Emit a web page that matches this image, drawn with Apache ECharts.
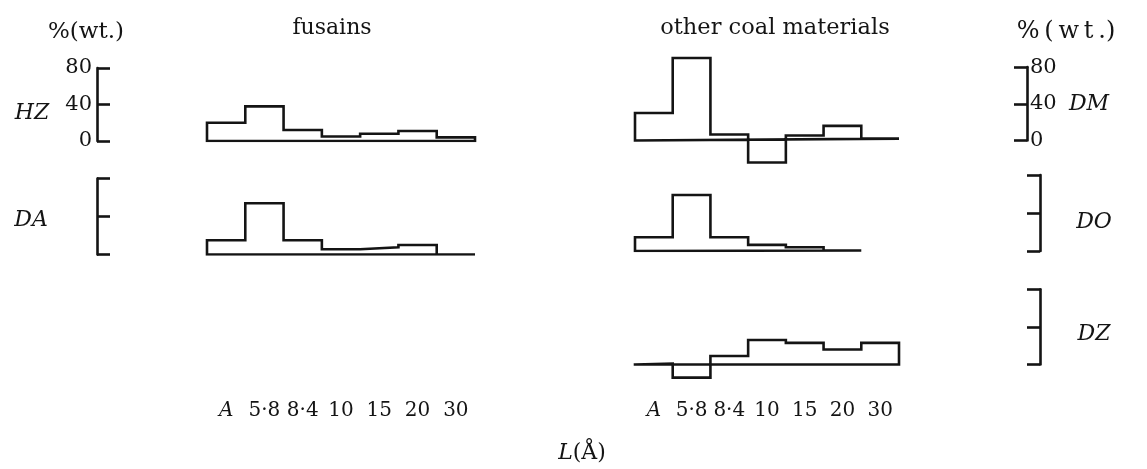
<!DOCTYPE html>
<html>
<head>
<meta charset="utf-8">
<script src="https://cdn.jsdelivr.net/npm/echarts@6/dist/echarts.min.js"></script>
<style>
  html, body { margin: 0; padding: 0; background: #ffffff; }
  #chart { width: 1147px; height: 469px; }
</style>
</head>
<body>
<div id="chart"></div>
<script>
// Pore-size classes (bin labels along L, in Å)
const binLabels = ['A', '5·8', '8·4', '10', '15', '20', '30'];

// Weight-% per size class, one histogram per sample
const HZ = [20, 38, 12, 5, 8, 11, 4];
const DA = [15, 54, 15, 5.5, 7.5, 10, 0];
const DM = [30, 90, 6.5, -24, 5.5, 16, 2];
const DO = [14.5, 59, 14.5, 6.5, 4, 0.5];
const DZ = [1, -14, 9, 26, 23, 16, 23];

// Scale bracket ticks, %(wt.)
const scaleTicks = [0, 40, 80];

const INK = '#141414';
const SERIF = '"DejaVu Serif", "Liberation Serif", serif';
const LW = 2.6;

// Layout of each histogram panel: baseline y, pixels per % unit, value range
const panels = [
  { tag: 'HZ', values: HZ, x0: 207, x1: 475, base: 141,   k: 0.9125, lo: 0,   hi: 45,
    bracket: { side: 'left', x: 97, labels: true }, tagPos: [32, 113] },
  { tag: 'DA', values: DA, x0: 207, x1: 475, base: 254.5, k: 0.95,   lo: 0,   hi: 60,
    bracket: { side: 'left', x: 97, labels: false }, tagPos: [31, 220] },
  { tag: 'DM', values: DM, x0: 635, x1: 899, base: 140.5, k: 0.917,  lo: -30, hi: 95,
    bracket: { side: 'right', x: 1027, labels: true }, tagPos: [1089, 104] },
  { tag: 'DO', values: DO, x0: 635, x1: 899, base: 251,   k: 0.95,   lo: 0,   hi: 62,
    bracket: { side: 'right', x: 1040, labels: false }, tagPos: [1094, 222] },
  { tag: 'DZ', values: DZ, x0: 635, x1: 899, base: 364.5, k: 0.94,   lo: -18, hi: 30,
    bracket: { side: 'right', x: 1040, labels: false }, tagPos: [1094, 334] }
];

// Closed histogram outline: baseline start, step along the bin tops, drop, back along baseline
function outline(values) {
  const pts = [[0, 0]];
  values.forEach((v, i) => { pts.push([i, v]); pts.push([i + 1, v]); });
  pts.push([values.length, 0]);
  pts.push([0, 0]);
  return pts;
}

const grid = [], xAxis = [], yAxis = [], series = [], graphic = [];

function addGrid(g) { grid.push(g); return grid.length - 1; }

panels.forEach(p => {
  // histogram
  const gi = addGrid({
    left: p.x0, width: p.x1 - p.x0,
    top: p.base - p.hi * p.k, height: (p.hi - p.lo) * p.k
  });
  xAxis.push({ gridIndex: gi, type: 'value', min: 0, max: binLabels.length, show: false });
  yAxis.push({ gridIndex: gi, type: 'value', min: p.lo, max: p.hi, show: false });
  series.push({
    type: 'line', xAxisIndex: xAxis.length - 1, yAxisIndex: yAxis.length - 1,
    data: outline(p.values), symbol: 'none', silent: true, animation: false,
    lineStyle: { color: INK, width: LW, join: 'miter', cap: 'square' }
  });

  // %(wt.) scale bracket: a one-pixel-wide grid whose y axis is the bracket
  const b = p.bracket;
  const bg = addGrid({
    left: b.side === 'left' ? b.x : b.x - 1, width: 1,
    top: p.base - 80 * p.k, height: 80 * p.k
  });
  xAxis.push({ gridIndex: bg, type: 'value', min: 0, max: 1, show: false });
  yAxis.push({
    gridIndex: bg, type: 'value', position: b.side,
    min: scaleTicks[0], max: scaleTicks[scaleTicks.length - 1],
    interval: scaleTicks[1] - scaleTicks[0],
    axisLine: { show: true, onZero: false, lineStyle: { color: INK, width: LW } },
    axisTick: { show: true, inside: true, length: 13, lineStyle: { color: INK, width: LW } },
    splitLine: { show: false },
    axisLabel: {
      show: b.labels, color: INK, fontFamily: SERIF, fontSize: 21, margin: b.side === 'left' ? 5 : 3
    }
  });

  // sample tag
  graphic.push({
    type: 'text', x: p.tagPos[0], y: p.tagPos[1], silent: true,
    style: { text: p.tag, fill: INK, font: 'italic 22px ' + SERIF, align: 'center', verticalAlign: 'middle' }
  });
});

// size-class labels under each column
[[207, 475], [635, 899]].forEach(([x0, x1]) => {
  const gi = addGrid({ left: x0, width: x1 - x0, top: 398, height: 1 });
  xAxis.push({
    gridIndex: gi, type: 'category', data: binLabels, boundaryGap: true,
    axisLine: { show: false }, axisTick: { show: false },
    axisLabel: {
      color: INK, fontFamily: SERIF, fontSize: 20, margin: 2, interval: 0,
      formatter: v => v === 'A' ? '{i|A}' : v,
      rich: { i: { fontStyle: 'italic', fontFamily: SERIF, fontSize: 20, color: INK } }
    }
  });
  yAxis.push({ gridIndex: gi, type: 'value', show: false });
});

// headings
const txt = (text, x, y, size) => graphic.push({
  type: 'text', x, y, silent: true,
  style: { text, fill: INK, font: size + 'px ' + SERIF, align: 'center', verticalAlign: 'middle' }
});

txt('%(wt.)', 86, 32, 23);
txt('fusains', 332, 28, 22);
txt('other coal materials', 775, 28, 22.5);
txt('%\u2009(\u2009w\u2009t\u2009.)', 1066, 32, 24);
graphic.push({
  type: 'text', x: 582, y: 453, silent: true,
  style: {
    text: '{i|L}(Å)', fill: INK, font: '22px ' + SERIF, align: 'center', verticalAlign: 'middle',
    rich: { i: { fontStyle: 'italic', fontFamily: SERIF, fontSize: 22, fill: INK } }
  }
});

const chart = echarts.init(document.getElementById('chart'), null, { renderer: 'canvas' });
chart.setOption({
  backgroundColor: '#ffffff',
  animation: false,
  grid, xAxis, yAxis, series, graphic
});
</script>
</body>
</html>
